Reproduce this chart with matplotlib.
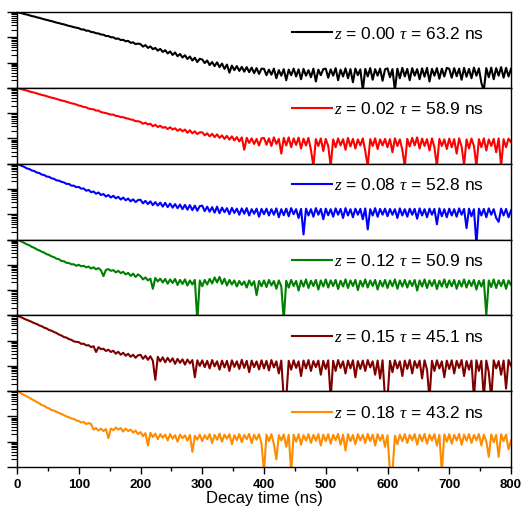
import numpy as np
import matplotlib
matplotlib.use("Agg")
import matplotlib.pyplot as plt
from matplotlib.ticker import LogLocator, NullFormatter, MultipleLocator

plt.rcParams['font.family'] = ['Liberation Sans', 'DejaVu Sans']
plt.rcParams['mathtext.fontset'] = 'custom'
plt.rcParams['mathtext.it'] = 'Liberation Serif:italic'
plt.rcParams['mathtext.rm'] = 'Liberation Sans'

# sampling step of the decay traces (ns)
step_ns = 4

# log10 of normalized PL intensity, one value every 4 ns from 0 to 800 ns
log_i_z000 = [
    0.00,-0.03,-0.05,-0.08,-0.10,-0.13,-0.16,-0.18,-0.21,-0.23,-0.26,-0.29,-0.31,-0.34,-0.36,-0.39,-0.42,-0.44,-0.47,-0.49,-0.52,-0.55,-0.57,-0.60,-0.62,
    -0.64,-0.69,-0.69,-0.74,-0.74,-0.79,-0.80,-0.84,-0.85,-0.89,-0.90,-0.95,-0.95,-1.00,-1.00,-1.06,-1.05,-1.11,-1.10,-1.16,-1.14,-1.22,-1.20,-1.27,-1.25,
    -1.27,-1.37,-1.31,-1.42,-1.36,-1.47,-1.42,-1.53,-1.46,-1.58,-1.51,-1.64,-1.56,-1.70,-1.60,-1.75,-1.66,-1.80,-1.71,-1.86,-1.76,-1.92,-1.81,-1.98,-1.85,
    -1.88,-2.02,-1.92,-2.10,-1.98,-2.14,-1.99,-2.18,-2.04,-2.25,-2.08,-2.40,-2.12,-2.30,-2.14,-2.33,-2.17,-2.36,-2.18,-2.38,-2.20,-2.42,-2.22,-2.45,-2.24,
    -2.25,-2.50,-2.28,-2.48,-2.24,-2.62,-2.30,-2.52,-2.26,-2.70,-2.28,-2.50,-2.24,-2.55,-2.27,-2.66,-2.25,-2.52,-2.30,-2.58,-2.24,-2.75,-2.28,-2.50,-2.26,
    -2.24,-2.60,-2.27,-2.52,-2.22,-2.70,-2.28,-2.55,-2.23,-2.62,-2.26,-2.78,-2.24,-2.50,-2.27,-3.10,-2.25,-2.55,-2.22,-2.68,-2.26,-2.52,-2.24,-2.72,-2.27,
    -2.23,-2.58,-2.26,-3.10,-2.24,-2.62,-2.21,-2.55,-2.25,-2.70,-2.22,-2.52,-2.26,-2.66,-2.23,-2.56,-2.21,-2.75,-2.25,-2.52,-2.22,-2.64,-2.24,-2.55,-2.21,
    -2.25,-2.60,-2.22,-2.54,-2.24,-2.68,-2.21,-2.56,-2.25,-2.62,-2.20,-2.52,-2.23,-2.80,-3.10,-2.22,-2.58,-2.20,-2.66,-2.22,-2.52,-2.18,-2.60,-2.21,-2.55,
    -2.25,
]
log_i_z002 = [
    0.00,-0.03,-0.06,-0.08,-0.11,-0.14,-0.17,-0.19,-0.22,-0.25,-0.28,-0.30,-0.33,-0.36,-0.39,-0.41,-0.44,-0.47,-0.50,-0.52,-0.55,-0.58,-0.61,-0.63,-0.66,
    -0.70,-0.72,-0.76,-0.77,-0.82,-0.84,-0.85,-0.90,-0.90,-0.96,-0.98,-1.00,-1.03,-1.06,-1.06,-1.11,-1.12,-1.16,-1.16,-1.20,-1.22,-1.25,-1.27,-1.32,-1.32,
    -1.35,-1.42,-1.38,-1.45,-1.42,-1.52,-1.46,-1.55,-1.50,-1.58,-1.55,-1.63,-1.56,-1.65,-1.60,-1.70,-1.63,-1.72,-1.65,-1.78,-1.68,-1.80,-1.72,-1.83,-1.76,
    -1.76,-1.88,-1.80,-1.92,-1.82,-1.95,-1.84,-1.98,-1.88,-2.02,-1.90,-2.05,-1.92,-2.08,-1.95,-2.12,-1.96,-2.45,-1.98,-2.18,-2.00,-2.22,-2.02,-2.28,-2.00,
    -1.98,-2.25,-2.00,-2.30,-1.96,-2.22,-2.02,-2.60,-1.98,-2.28,-1.96,-2.35,-2.00,-2.26,-1.97,-2.40,-2.01,-2.28,-1.98,-2.45,-3.10,-2.03,-2.30,-2.00,-2.50,
    -2.02,-2.30,-3.10,-2.04,-2.35,-2.00,-2.28,-2.03,-2.45,-1.98,-2.32,-2.02,-2.40,-2.04,-2.28,-2.00,-2.50,-3.10,-2.03,-2.30,-2.00,-2.42,-2.04,-2.28,-2.02,
    -2.35,-2.03,-2.55,-2.00,-2.30,-2.04,-2.45,-3.10,-2.02,-2.32,-1.98,-2.28,-1.96,-2.40,-2.01,-2.30,-2.03,-2.48,-2.00,-2.35,-3.10,-2.02,-2.30,-2.04,-2.42,
    -2.01,-2.35,-2.03,-2.60,-2.00,-2.32,-3.05,-2.04,-2.40,-2.01,-2.30,-3.10,-2.03,-2.35,-2.00,-2.48,-2.04,-2.30,-2.02,-2.55,-2.00,-3.10,-2.03,-2.35,-2.01,
    -2.15,
]
log_i_z008 = [
    0.00,-0.05,-0.09,-0.13,-0.19,-0.21,-0.27,-0.29,-0.35,-0.37,-0.43,-0.45,-0.51,-0.52,-0.58,-0.60,-0.66,-0.67,-0.72,-0.74,-0.80,-0.80,-0.87,-0.87,-0.93,
    -0.92,-0.99,-0.98,-1.07,-1.04,-1.13,-1.10,-1.19,-1.14,-1.24,-1.20,-1.30,-1.24,-1.34,-1.27,-1.37,-1.31,-1.42,-1.34,-1.45,-1.38,-1.49,-1.41,-1.52,-1.44,
    -1.43,-1.57,-1.47,-1.60,-1.49,-1.64,-1.52,-1.66,-1.54,-1.70,-1.55,-1.72,-1.58,-1.74,-1.60,-1.76,-1.62,-1.80,-1.63,-1.82,-1.64,-1.84,-1.66,-1.86,-1.68,
    -1.66,-1.88,-1.70,-1.90,-1.72,-1.94,-1.70,-1.96,-1.74,-1.92,-1.76,-2.00,-1.75,-1.95,-1.78,-2.02,-1.77,-1.98,-1.76,-2.05,-1.80,-1.98,-1.78,-2.10,-1.79,
    -2.00,-1.78,-2.05,-1.80,-2.02,-1.77,-2.12,-1.80,-2.04,-1.78,-2.08,-1.76,-2.00,-1.80,-2.15,-1.79,-2.80,-1.78,-2.05,-1.80,-2.10,-1.76,-2.02,-1.79,-2.20,
    -1.78,-2.04,-1.80,-2.10,-1.77,-2.02,-1.79,-2.15,-1.76,-2.05,-1.80,-2.12,-1.78,-2.02,-1.79,-2.20,-1.77,-2.60,-1.80,-2.05,-1.76,-2.10,-1.79,-2.02,-1.78,
    -2.08,-1.79,-2.02,-1.80,-2.15,-1.77,-2.05,-1.80,-2.10,-1.78,-2.02,-1.79,-2.18,-1.77,-2.05,-1.80,-2.12,-1.78,-2.02,-1.79,-2.40,-1.77,-2.08,-1.80,-2.12,
    -1.78,-2.05,-1.80,-2.10,-1.77,-2.02,-1.79,-2.55,-1.78,-2.08,-1.80,-3.20,-1.78,-2.05,-1.79,-2.12,-1.77,-2.02,-1.80,-2.15,-2.30,-1.78,-2.05,-1.79,-2.12,
    -1.85,
]
log_i_z012 = [
    0.00,-0.04,-0.09,-0.14,-0.19,-0.23,-0.29,-0.33,-0.39,-0.43,-0.48,-0.52,-0.58,-0.61,-0.67,-0.70,-0.76,-0.78,-0.85,-0.86,-0.92,-0.93,-0.98,-0.98,-1.04,
    -1.00,-1.06,-1.04,-1.10,-1.07,-1.15,-1.10,-1.18,-1.13,-1.22,-1.45,-1.20,-1.17,-1.24,-1.21,-1.30,-1.24,-1.33,-1.28,-1.38,-1.32,-1.44,-1.35,-1.48,-1.38,
    -1.45,-1.58,-1.50,-1.62,-1.55,-1.95,-1.52,-1.66,-1.55,-1.70,-1.56,-1.75,-1.58,-1.72,-1.56,-1.80,-1.60,-1.76,-1.58,-1.82,-1.62,-1.78,-1.60,-3.20,-1.62,
    -1.85,-1.60,-1.78,-1.56,-1.74,-1.50,-1.70,-1.48,-1.76,-1.55,-1.82,-1.60,-1.78,-1.62,-1.86,-1.64,-1.80,-1.66,-1.90,-1.62,-1.82,-1.65,-2.20,-1.64,-1.85,
    -1.62,-1.88,-1.60,-1.82,-1.64,-1.95,-1.62,-1.85,-3.20,-1.63,-1.90,-1.60,-1.84,-1.64,-2.02,-1.62,-1.86,-1.58,-1.92,-1.63,-1.84,-1.60,-1.98,-1.62,-1.86,
    -1.58,-1.90,-1.62,-1.84,-1.60,-1.96,-1.63,-1.86,-1.58,-1.92,-1.62,-1.84,-1.60,-2.00,-1.63,-1.86,-1.58,-1.90,-1.62,-1.84,-1.60,-1.98,-1.63,-1.86,-1.60,
    -1.92,-1.62,-1.85,-1.58,-1.95,-1.62,-1.86,-1.60,-1.90,-1.63,-1.84,-1.60,-2.02,-1.62,-1.86,-1.58,-1.92,-1.62,-1.84,-1.60,-1.96,-1.63,-1.86,-1.58,-1.90,
    -1.62,-1.85,-1.60,-1.95,-1.63,-1.86,-1.58,-1.90,-1.62,-1.84,-1.60,-1.98,-1.63,-1.86,-1.60,-3.00,-1.62,-1.88,-1.58,-1.92,-1.62,-1.84,-1.60,-1.95,-1.62,
    -1.80,
]
log_i_z015 = [
    0.00,-0.05,-0.09,-0.14,-0.18,-0.22,-0.26,-0.31,-0.34,-0.40,-0.43,-0.49,-0.52,-0.58,-0.61,-0.66,-0.70,-0.76,-0.80,-0.86,-0.88,-0.94,-0.97,-1.03,-1.05,
    -1.06,-1.13,-1.12,-1.19,-1.18,-1.26,-1.22,-1.45,-1.26,-1.34,-1.32,-1.41,-1.36,-1.45,-1.40,-1.52,-1.44,-1.56,-1.48,-1.60,-1.52,-1.64,-1.56,-1.68,-1.58,
    -1.56,-1.72,-1.60,-1.76,-1.62,-1.80,-2.55,-1.64,-1.82,-1.66,-1.86,-1.68,-1.84,-1.70,-1.92,-1.72,-1.88,-1.74,-1.95,-1.75,-1.90,-1.77,-2.45,-1.78,-2.00,
    -1.78,-2.05,-1.80,-2.10,-1.77,-2.02,-1.82,-2.15,-1.79,-2.06,-1.80,-2.20,-1.78,-2.04,-1.82,-2.12,-1.76,-2.08,-1.80,-2.25,-1.79,-2.05,-1.82,-2.14,-1.78,
    -2.10,-1.80,-2.18,-1.77,-2.06,-1.82,-2.30,-1.79,-3.30,-3.30,-1.80,-2.15,-1.78,-2.08,-1.82,-2.40,-1.79,-2.10,-1.77,-2.20,-1.81,-2.05,-1.79,-2.35,-1.80,
    -2.12,-1.78,-3.30,-1.80,-2.20,-1.77,-2.08,-1.82,-2.30,-1.79,-2.10,-1.78,-2.45,-1.81,-2.12,-1.79,-2.20,-1.77,-2.06,-1.82,-2.35,-1.79,-2.50,-1.78,-3.30,
    -3.30,-1.80,-2.25,-1.78,-2.10,-1.82,-2.40,-1.79,-2.12,-1.77,-2.30,-1.81,-2.08,-1.79,-2.50,-1.78,-2.15,-3.30,-1.80,-2.20,-1.78,-2.10,-1.82,-2.45,-1.79,
    -2.12,-1.78,-2.30,-1.80,-2.08,-1.77,-2.40,-1.81,-2.15,-1.79,-3.30,-1.78,-2.20,-1.80,-3.30,-1.79,-2.25,-3.30,-1.78,-2.10,-1.81,-2.35,-1.79,-2.90,-1.77,
    -2.00,
]
log_i_z018 = [
    0.00,-0.05,-0.11,-0.16,-0.21,-0.26,-0.32,-0.37,-0.43,-0.48,-0.55,-0.58,-0.65,-0.68,-0.75,-0.77,-0.82,-0.86,-0.90,-0.95,-1.00,-1.03,-1.08,-1.10,-1.16,
    -1.18,-1.24,-1.22,-1.30,-1.26,-1.30,-1.52,-1.46,-1.56,-1.48,-1.58,-1.50,-1.86,-1.48,-1.55,-1.44,-1.52,-1.46,-1.60,-1.48,-1.58,-1.52,-1.64,-1.56,-1.70,
    -1.62,-1.78,-1.66,-2.15,-1.65,-1.82,-1.68,-1.90,-1.70,-1.84,-1.72,-1.95,-1.70,-1.88,-1.74,-2.00,-1.72,-1.86,-1.75,-1.96,-1.73,-2.40,-1.76,-1.92,-1.72,
    -1.98,-1.74,-1.90,-1.70,-2.05,-1.73,-1.92,-1.68,-2.00,-1.72,-1.88,-1.70,-2.10,-1.74,-1.94,-1.70,-2.02,-1.73,-1.90,-1.69,-2.06,-1.72,-1.92,-1.70,-2.08,
    -3.20,-1.72,-1.98,-1.70,-2.10,-2.70,-1.74,-1.95,-1.71,-2.20,-1.73,-3.20,-1.72,-2.00,-1.70,-2.12,-1.74,-1.95,-1.70,-2.05,-1.73,-1.96,-1.70,-2.15,-1.72,
    -1.98,-1.70,-2.08,-1.73,-1.94,-1.69,-2.12,-1.72,-2.35,-1.70,-1.98,-1.73,-2.10,-1.70,-1.95,-1.72,-2.05,-1.69,-1.98,-1.72,-2.15,-1.70,-1.96,-1.73,-2.20,
    -1.75,-3.20,-3.20,-1.76,-2.10,-1.72,-1.98,-1.70,-2.05,-1.73,-1.94,-1.70,-2.12,-1.72,-1.98,-1.69,-2.08,-1.72,-1.95,-1.70,-2.15,-1.73,-3.20,-1.71,-2.00,
    -1.70,-2.08,-1.73,-1.95,-1.69,-2.12,-1.72,-1.96,-1.70,-2.05,-1.73,-1.94,-1.70,-2.15,-1.72,-1.98,-2.60,-1.71,-2.02,-1.73,-2.60,-1.70,-1.98,-1.72,-2.30,
    -1.95,
]

series = [log_i_z000, log_i_z002, log_i_z008, log_i_z012, log_i_z015, log_i_z018]
z_values = ["0.00", "0.02", "0.08", "0.12", "0.15", "0.18"]
tau_values = ["63.2", "58.9", "52.8", "50.9", "45.1", "43.2"]
colors = ["black", "#ff0000", "#0000ff", "#008000", "#800000", "#ff8c00"]

x_ticks = [0, 100, 200, 300, 400, 500, 600, 700, 800]

fig = plt.figure(figsize=(5.31, 5.07), dpi=100)
gs = fig.add_gridspec(6, 1, left=17/531, right=511/531, top=1-12/507, bottom=1-467/507, hspace=0)
axes = [fig.add_subplot(gs[i, 0]) for i in range(6)]

for i, ax in enumerate(axes):
    vals = np.array(series[i])
    t = step_ns * np.arange(len(vals))
    ax.plot(t, 10 ** vals, color=colors[i], lw=1.5,
            label=r"$z$ = %s $\tau$ = %s ns" % (z_values[i], tau_values[i]))
    ax.set_yscale('log')
    ax.set_ylim(1e-3, 1)
    ax.set_xlim(0, 800)
    ax.yaxis.set_major_locator(LogLocator(base=10, numticks=10))
    ax.yaxis.set_minor_locator(LogLocator(base=10, subs=np.arange(2, 10), numticks=10))
    ax.yaxis.set_major_formatter(NullFormatter())
    ax.yaxis.set_minor_formatter(NullFormatter())
    ax.tick_params(axis='y', which='major', direction='out', length=7, width=1)
    ax.tick_params(axis='y', which='minor', direction='out', length=4, width=0.8)
    ax.tick_params(axis='y', right=False)
    ax.legend(loc='center right', bbox_to_anchor=((484-17)/494, 1 - 21.5/75.8),
              frameon=False, fontsize=12.5, handlelength=2.3, handletextpad=0.15,
              borderaxespad=0, borderpad=0)
    for sp in ax.spines.values():
        sp.set_linewidth(1.0)
    if i < 5:
        ax.tick_params(axis='x', which='both', bottom=False, labelbottom=False)
    else:
        ax.set_xticks(x_ticks)
        ax.xaxis.set_minor_locator(MultipleLocator(50))
        ax.tick_params(axis='x', which='major', direction='out', length=5, width=1, labelsize=9.5)
        ax.tick_params(axis='x', which='minor', direction='out', length=3, width=1)
        for lab in ax.get_xticklabels():
            lab.set_fontweight('bold')
        ax.set_xlabel("Decay time (ns)", fontsize=12, labelpad=0)

fig.savefig("out.png", dpi=100)
